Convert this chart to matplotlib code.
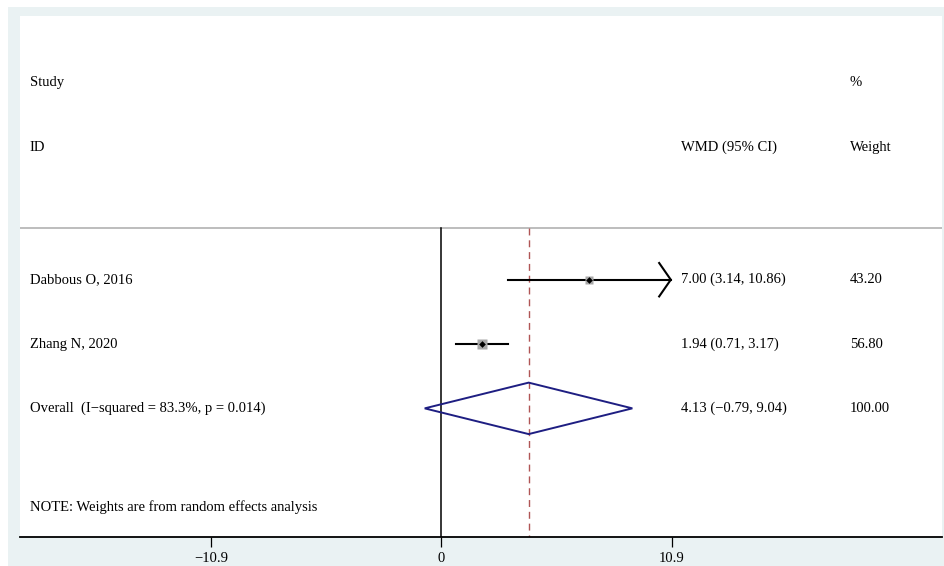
import matplotlib
matplotlib.use("Agg")
import matplotlib.pyplot as plt
from matplotlib.patches import Rectangle, Polygon

plt.rcParams['font.family'] = ['Liberation Serif', 'DejaVu Serif']

studies = ["Dabbous O, 2016", "Zhang N, 2020"]
est = [7.00, 1.94]
lo = [3.14, 0.71]
hi = [10.86, 3.17]
weights = [43.20, 56.80]
ci_text = ["7.00 (3.14, 10.86)", "1.94 (0.71, 3.17)"]
weight_text = ["43.20", "56.80"]
overall_label = "Overall  (I\u2212squared = 83.3%, p = 0.014)"
overall = [4.13, -0.79, 9.04]
overall_ci_text = "4.13 (\u22120.79, 9.04)"
overall_weight_text = "100.00"
tick_vals = [-10.9, 0, 10.9]
tick_labels = ["\u221210.9", "0", "10.9"]
note = "NOTE: Weights are from random effects analysis"

W, H = 944, 566
fig = plt.figure(figsize=(W / 100, H / 100), dpi=100)
fig.patch.set_facecolor("white")
bg = (234 / 255, 242 / 255, 243 / 255)
fig.patches.append(Rectangle((8 / W, 0), (W - 8) / W, (H - 7) / H,
                             transform=fig.transFigure, facecolor=bg,
                             edgecolor="none", zorder=-5))

ax = fig.add_axes([20 / W, (H - 537) / H, 922 / W, 521 / H])
ax.set_zorder(2)
ax.set_facecolor("white")
xmin = -19.95
xmax = 23.7
ax.set_xlim(xmin, xmax)
ax.set_ylim(8.0, -0.1)

fs = 10.5
for s in ["top", "left", "right"]:
    ax.spines[s].set_visible(False)
ax.spines["bottom"].set_linewidth(1.3)
ax.spines["bottom"].set_color("black")
ax.set_yticks([])
ax.set_xticks(tick_vals)
ax.set_xticklabels(tick_labels, fontsize=fs)
ax.tick_params(axis="x", direction="out", length=7, width=0.9, pad=3.5)

tx = ax.get_yaxis_transform()  # x in axes frac, y in data
col_study = 0.0108
col_ci = 0.717
col_w = 0.900

# header
ax.text(col_study, 0.93, "Study", transform=tx, fontsize=fs, va="center")
ax.text(col_w, 0.93, "%", transform=tx, fontsize=fs, va="center")
ax.text(col_study, 1.94, "ID", transform=tx, fontsize=fs, va="center")
ax.text(col_ci, 1.94, "WMD (95% CI)", transform=tx, fontsize=fs, va="center")
ax.text(col_w, 1.94, "Weight", transform=tx, fontsize=fs, va="center")

line_y = 3.2
ax.plot([0, 1], [line_y, line_y], transform=tx, color="#b8b8b8", lw=1.3, zorder=1)

# null line and overall line
ax.plot([0, 0], [line_y, 8.0], color="black", lw=1.1, zorder=2)
ax.plot([overall[0], overall[0]], [line_y, 8.0], color="#b05555", lw=1.0,
        ls=(0, (5, 3.5)), zorder=2)

tick_max = max(tick_vals)
tick_min = min(tick_vals)
for i, name in enumerate(studies):
    y = 4 + i
    l = max(lo[i], tick_min)
    h = min(hi[i], tick_max)
    ax.plot([l, h], [y, y], color="black", lw=1.5, zorder=3)
    if hi[i] >= 0.99 * tick_max:
        ax.plot([h - 0.55, h, h - 0.55], [y - 0.26, y, y + 0.26],
                color="black", lw=1.5, zorder=3)
    if lo[i] <= 0.99 * tick_min:
        ax.plot([l + 0.55, l, l + 0.55], [y - 0.26, y, y + 0.26],
                color="black", lw=1.5, zorder=3)
    size = 0.95 * weights[i] ** 0.5
    ax.plot(est[i], y, marker="s", ms=size, color="#a8a8a8", mec="none", zorder=4)
    ax.plot(est[i], y, marker="D", ms=3.4, color="black", mec="none", zorder=5)
    ax.text(col_study, y, name, transform=tx, fontsize=fs, va="center")
    ax.text(col_ci, y, ci_text[i], transform=tx, fontsize=fs, va="center")
    ax.text(col_w, y, weight_text[i], transform=tx, fontsize=fs, va="center")

yo = 4 + len(studies)
dia = Polygon([[overall[1], yo], [overall[0], yo - 0.4], [overall[2], yo],
               [overall[0], yo + 0.4]], closed=True, fill=False,
              edgecolor="#1e1e82", lw=1.4, zorder=6)
ax.add_patch(dia)
ax.text(col_study, yo, overall_label, transform=tx, fontsize=fs, va="center")
ax.text(col_ci, yo, overall_ci_text, transform=tx, fontsize=fs, va="center")
ax.text(col_w, yo, overall_weight_text, transform=tx, fontsize=fs, va="center")

ax.text(col_study, 7.53, note, transform=tx, fontsize=fs, va="center")

fig.savefig("out.png", dpi=100, facecolor=fig.get_facecolor())
